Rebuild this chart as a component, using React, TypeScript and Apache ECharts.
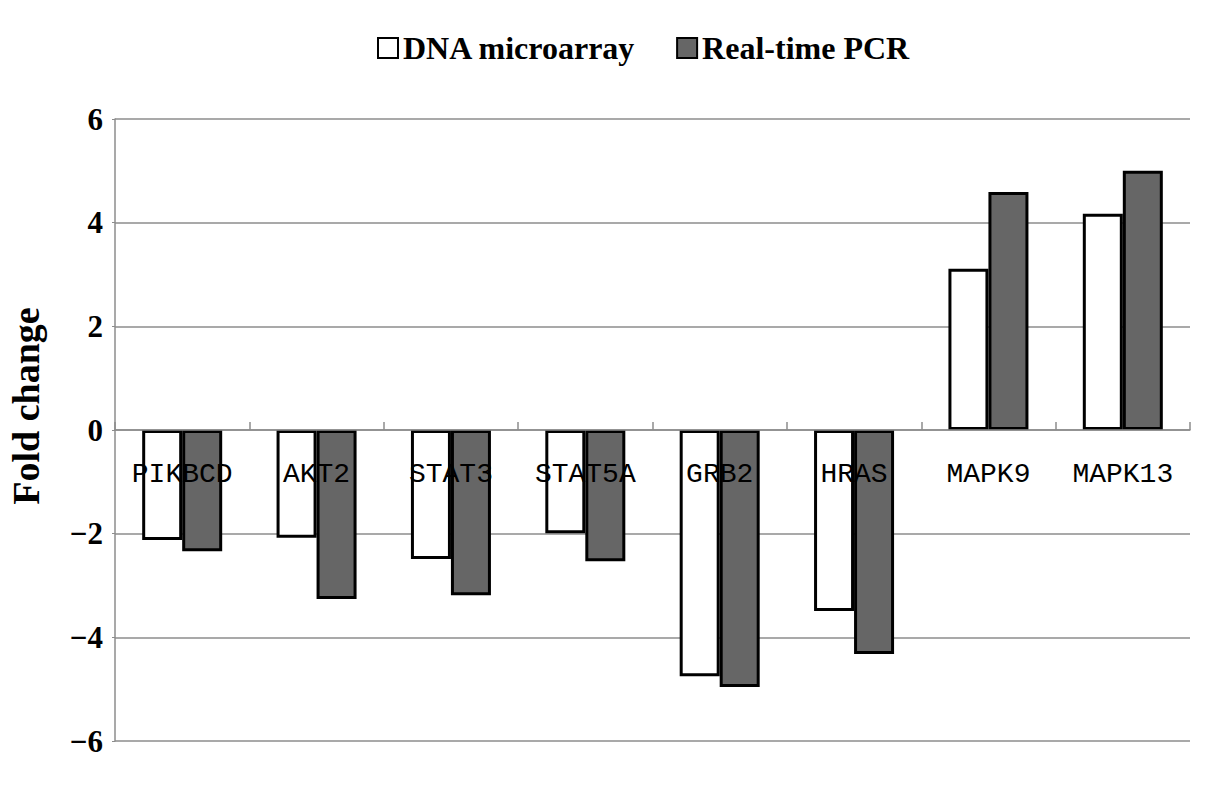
import React, { useEffect, useRef } from "react";
import * as echarts from "echarts";

const categories = ["PIKBCD", "AKT2", "STAT3", "STAT5A", "GRB2", "HRAS", "MAPK9", "MAPK13"];
const microarray = [-2.12, -2.08, -2.49, -1.99, -4.75, -3.49, 3.11, 4.17];
const pcr = [-2.34, -3.26, -3.19, -2.53, -4.96, -4.32, 4.59, 5.0];
const seriesNames = ["DNA microarray", "Real-time PCR"];
const yTicks = { min: -6, max: 6, interval: 2 };

export default function App() {
  const ref = useRef<HTMLDivElement>(null);
  useEffect(() => {
    document.body.style.margin = "0";
    const chart = echarts.init(ref.current!, null, { renderer: "svg" });
    const serif = "'Liberation Serif', 'Times New Roman', serif";
    chart.setOption({
      animation: false,
      backgroundColor: "#ffffff",
      legend: {
        top: 27,
        left: 372,
        itemWidth: 20,
        itemHeight: 20,
        itemGap: 40,
        icon: "rect",
        textStyle: { fontFamily: serif, fontWeight: "bold", fontSize: 32, color: "#000" },
        data: seriesNames,
      },
      grid: { left: 115, right: 15, top: 119, bottom: 45, containLabel: false, outerBoundsMode: "none" },
      xAxis: {
        type: "category",
        data: categories,
        offset: -311,
        z: 10,
        axisLine: { onZero: false, lineStyle: { color: "#8c8c8c", width: 1.5 } },
        axisTick: { show: true, inside: true, length: 8, lineStyle: { color: "#8c8c8c", width: 1.5 } },
        axisLabel: {
          fontFamily: "'Liberation Mono', monospace",
          fontSize: 28,
          color: "#000",
          margin: 30,
        },
        splitLine: { show: false },
      },
      yAxis: {
        type: "value",
        min: yTicks.min,
        max: yTicks.max,
        interval: yTicks.interval,
        name: "Fold change",
        nameLocation: "middle",
        nameGap: 70,
        nameRotate: 90,
        nameTextStyle: {
          fontFamily: serif,
          fontWeight: "bold",
          fontSize: 38,
          color: "#000",
          padding: [0, 0, 0, 48],
        },
        axisLine: { show: true, lineStyle: { color: "#8c8c8c", width: 1.5 } },
        axisTick: { show: true, length: 3, lineStyle: { color: "#8c8c8c" } },
        axisLabel: {
          fontFamily: serif,
          fontWeight: "bold",
          fontSize: 31,
          color: "#000",
          margin: 12,
          formatter: (v: number) => String(v).replace("-", "\u2212"),
        },
        splitLine: { show: true, lineStyle: { color: "#8c8c8c", width: 1.5 } },
      },
      series: [
        {
          name: seriesNames[0],
          type: "bar",
          data: microarray,
          barWidth: 40,
          barGap: "0%",
          itemStyle: { color: "#ffffff", borderColor: "#000", borderWidth: 3 },
        },
        {
          name: seriesNames[1],
          type: "bar",
          data: pcr,
          barWidth: 40,
          barGap: "0%",
          itemStyle: { color: "#666666", borderColor: "#000", borderWidth: 3 },
        },
      ],
    });
    return () => chart.dispose();
  }, []);
  return <div ref={ref} style={{ width: 1205, height: 786 }} />;
}
